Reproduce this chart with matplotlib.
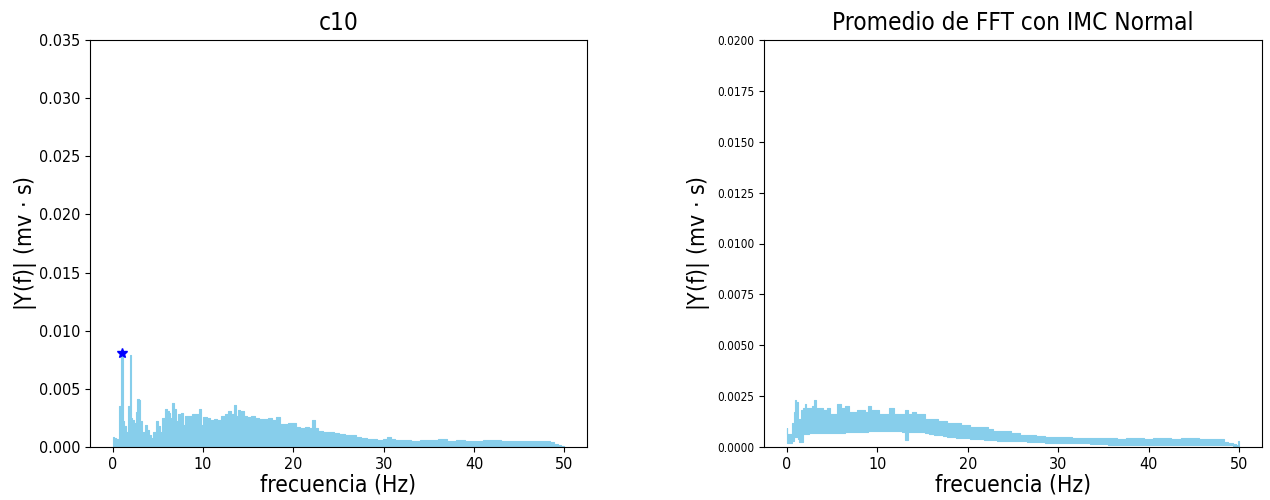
import matplotlib.pyplot as plt

plt.rcParams["font.family"] = "DejaVu Sans"
plt.rcParams["font.stretch"] = "condensed"

# espectro c10 (frecuencia en Hz, amplitud)
c10_freq = [0.0, 0.2, 0.5, 0.8, 0.95, 1.05, 1.2, 1.4, 1.6, 1.8, 1.95, 2.1,
            2.2, 2.5, 2.65, 2.8, 2.95, 3.1, 3.3, 3.5, 3.7, 3.9, 4.1, 4.3,
            4.6, 4.9, 5.1, 5.3, 5.6, 5.9, 6.1, 6.3, 6.5, 6.7, 6.9, 7.1,
            7.4, 7.7, 7.9, 8.2, 8.6, 9.0, 9.4, 9.7, 9.9, 10.2, 10.6, 11.0,
            11.4, 11.8, 12.2, 12.6, 12.9, 13.2, 13.6, 13.8, 14.0, 14.3, 14.7,
            15.1, 15.6, 16.0, 16.5, 17.0, 17.4, 17.8, 18.3, 18.7, 19.2, 19.7,
            20.1, 20.5, 21.0, 21.5, 21.9, 22.2, 22.5, 23.0, 23.6, 24.2, 24.8,
            25.4, 26.0, 26.6, 27.2, 27.8, 28.4, 29.0, 29.6, 30.2, 30.6, 31.0,
            31.6, 32.5, 33.5, 34.5, 35.5, 36.5, 37.5, 38.5, 39.5, 40.5, 41.5,
            42.5, 43.5, 44.5, 45.5, 46.5, 47.5, 48.2, 48.7, 49.1, 49.5, 49.8,
            50.0]
c10_amp = [0.0009, 0.0008, 0.0007, 0.0035, 0.0081, 0.0081, 0.0022, 0.0018,
           0.0013, 0.0035, 0.0079, 0.0025, 0.0023, 0.0021, 0.0030, 0.0041,
           0.0040, 0.0022, 0.0009, 0.0013, 0.0019, 0.0015, 0.0010, 0.0008,
           0.0013, 0.0022, 0.0018, 0.0013, 0.0025, 0.0033, 0.0031, 0.0029,
           0.0025, 0.0038, 0.0033, 0.0022, 0.0028, 0.0029, 0.0019, 0.0027,
           0.0027, 0.0028, 0.0028, 0.0033, 0.0019, 0.0026, 0.0025, 0.0023,
           0.0024, 0.0023, 0.0027, 0.0028, 0.0031, 0.0028, 0.0036, 0.0027,
           0.0032, 0.0031, 0.0027, 0.0026, 0.0027, 0.0025, 0.0024, 0.0024,
           0.0025, 0.0023, 0.0026, 0.0020, 0.0020, 0.0021, 0.0021, 0.0017,
           0.0016, 0.0017, 0.0016, 0.0023, 0.0016, 0.0014, 0.0013, 0.0013,
           0.0012, 0.0011, 0.0010, 0.0010, 0.0009, 0.0008, 0.0007, 0.0007,
           0.0006, 0.0007, 0.0009, 0.0007, 0.0006, 0.0006, 0.0005, 0.0006,
           0.0006, 0.0007, 0.0005, 0.0006, 0.0005, 0.0005, 0.0006, 0.0006,
           0.0005, 0.0005, 0.0005, 0.0005, 0.0005, 0.0005, 0.0004, 0.0003,
           0.0002, 0.0001, 0.0]
peak_freq = 1.0
peak_amp = 0.0081

# promedio FFT IMC normal: banda superior / inferior
prom_freq = [0.0, 0.1, 0.4, 0.7, 0.85, 1.0, 1.1, 1.3, 1.5, 1.7, 1.9, 2.05,
             2.3, 2.6, 2.9, 3.1, 3.4, 3.8, 4.2, 4.6, 5.0, 5.4, 5.8, 6.2, 6.7,
             7.1, 7.5, 8.0, 8.4, 8.8, 9.1, 9.5, 10.0, 10.5, 11.0, 11.6, 12.0,
             12.5, 13.0, 13.2, 13.6, 14.0, 14.5, 15.0, 15.5, 16.0, 16.5, 17.0,
             17.5, 18.0, 18.5, 19.0, 19.5, 20.0, 20.5, 21.0, 21.5, 22.0, 22.5,
             23.0, 23.5, 24.0, 24.5, 25.0, 25.5, 26.0, 27.0, 28.0, 29.0, 30.0,
             31.0, 32.0, 33.0, 34.0, 35.0, 36.0, 37.0, 38.0, 39.0, 40.0, 41.0,
             42.0, 43.0, 44.0, 45.0, 46.0, 47.0, 48.0, 48.5, 49.0, 49.5, 49.8,
             50.0]
prom_upper = [0.00095, 0.00065, 0.00066, 0.0012, 0.0017, 0.0023, 0.0022,
              0.0010, 0.0014, 0.0018, 0.0019, 0.0021, 0.0019, 0.0019, 0.0020,
              0.0023, 0.0019, 0.0019, 0.0018, 0.0019, 0.0016, 0.0016, 0.0021,
              0.0019, 0.0020, 0.0017, 0.0017, 0.0018, 0.0018, 0.0017, 0.0020,
              0.0018, 0.0018, 0.0016, 0.0016, 0.0019, 0.0016, 0.0016, 0.0016,
              0.0018, 0.0016, 0.0017, 0.0016, 0.0016, 0.0014, 0.0014, 0.0014,
              0.0013, 0.0013, 0.0012, 0.0012, 0.0012, 0.0011, 0.0011, 0.0010,
              0.0010, 0.0010, 0.0010, 0.0009, 0.0008, 0.0008, 0.0008, 0.0008,
              0.0007, 0.0007, 0.0006, 0.0006, 0.00055, 0.0005, 0.0005, 0.0005,
              0.00042, 0.00042, 0.00042, 0.00042, 0.00043, 0.00041, 0.00042,
              0.00043, 0.00041, 0.00042, 0.00042, 0.00041, 0.00042, 0.00043,
              0.00041, 0.00041, 0.0004, 0.00025, 0.0002, 0.00013, 0.00008,
              0.0003]
prom_lower = [0.0002, 0.0002, 0.0002, 0.0003, 0.0005, 0.0005, 0.0005,
              0.0004, 0.00025, 0.00025, 0.00066, 0.00066, 0.00066, 0.00068,
              0.0007, 0.0007, 0.0007, 0.0007, 0.0007, 0.0007, 0.0007, 0.0007,
              0.0007, 0.0007, 0.00072, 0.00072, 0.00072, 0.00072, 0.00072,
              0.00075, 0.0008, 0.0008, 0.0008, 0.0008, 0.0008, 0.0008, 0.0008,
              0.00078, 0.00075, 0.00035, 0.00073, 0.00073, 0.00073, 0.00073,
              0.0007, 0.00065, 0.00057, 0.00057, 0.00055, 0.0005, 0.00047,
              0.00045, 0.00043, 0.00042, 0.00041, 0.0004, 0.00037, 0.00035,
              0.00033, 0.00032, 0.00031, 0.0003, 0.0003, 0.0003, 0.00029,
              0.00028, 0.00025, 0.00023, 0.00022, 0.00021, 0.0002, 0.0002,
              0.00018, 0.00016, 0.00013, 0.00012, 0.00012, 0.00012, 0.00012,
              0.00012, 0.00012, 0.00012, 0.00012, 0.00012, 0.00012, 0.00012,
              0.00012, 0.00011, 0.0001, 0.00008, 0.00005, 0.00003, 0.0]

fig = plt.figure(figsize=(12.7, 5), dpi=100)
ax1 = fig.add_axes([0.0709, 0.106, 0.3913, 0.814])
ax2 = fig.add_axes([0.6016, 0.106, 0.3921, 0.814])

ax1.fill_between(c10_freq, 0, c10_amp, step="mid", color="skyblue", lw=0.8)
ax1.plot(peak_freq, peak_amp, "b*", markersize=7)
ax1.set_xlim(-2.5, 52.5)
ax1.set_ylim(0, 0.035)
ax1.set_title("c10", fontsize=17.5, pad=7)
ax1.set_xlabel("frecuencia (Hz)", fontsize=16.5, labelpad=1)
ax1.set_ylabel("|Y(f)| (mv $\\cdot$ s)", fontsize=16.5, labelpad=0)
ax1.tick_params(labelsize=11.5)

ax2.fill_between(prom_freq, prom_lower, prom_upper, step="mid", color="skyblue", lw=0.8)
ax2.set_xlim(-2.5, 52.5)
ax2.set_ylim(0, 0.02)
ax2.set_yticks([i * 0.0025 for i in range(9)])
ax2.set_title("Promedio de FFT con IMC Normal", fontsize=17.5, pad=7)
ax2.set_xlabel("frecuencia (Hz)", fontsize=16.5, labelpad=1)
ax2.set_ylabel("|Y(f)| (mv $\\cdot$ s)", fontsize=16.5)
ax2.tick_params(axis="x", labelsize=11.5)
ax2.tick_params(axis="y", labelsize=8.5)

fig.savefig("out.png", dpi=100)
